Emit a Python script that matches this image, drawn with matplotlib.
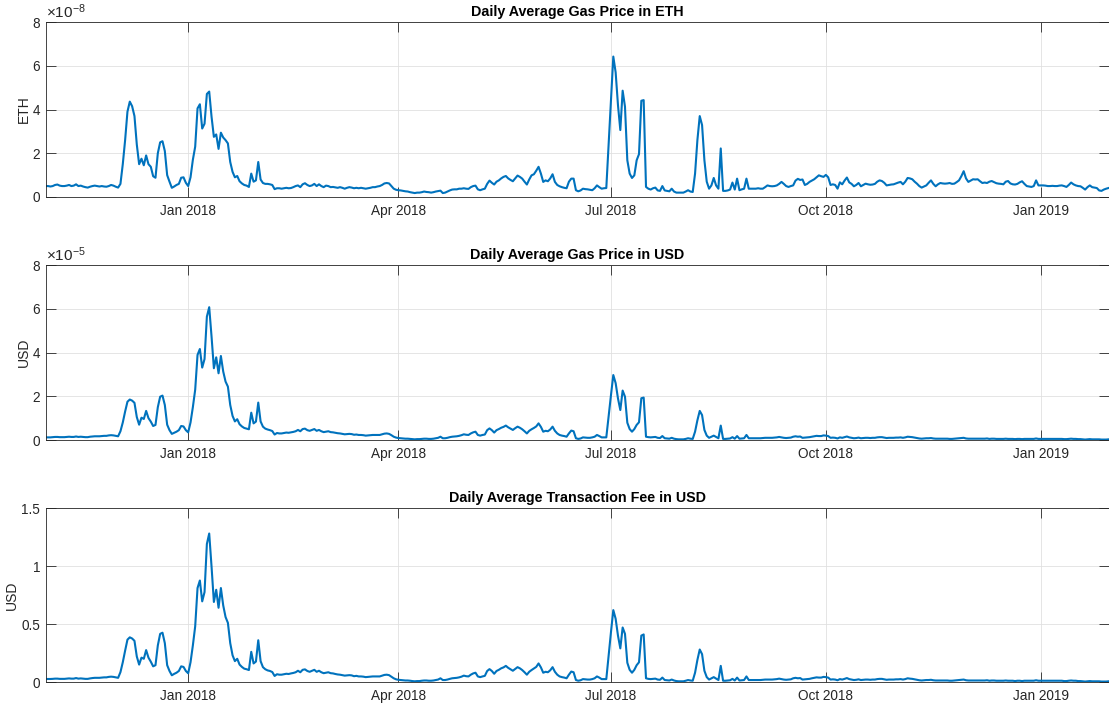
import numpy as np
import pandas as pd
import matplotlib
matplotlib.use("Agg")
import matplotlib.pyplot as plt
import matplotlib.dates as mdates

# ---------------- data (daily, starting 2017-11-01) ----------------
START = "2017-11-01"

# Daily average gas price in ETH, units of 1e-8 ETH
eth_gas_e8 = (
    # Nov 2017
    [0.5,0.5,0.48,0.5,0.55,0.57,0.52,0.5,0.5,0.52, 0.55,0.5,0.52,0.58,0.5,0.52,0.48,0.45,0.43,0.47,
     0.5,0.52,0.5,0.48,0.5,0.48,0.47,0.5,0.55,0.52]
    # Dec 2017
    + [0.47,0.43,0.6,1.5,2.6,3.9,4.36,4.15,3.7,2.4, 1.5,1.75,1.45,1.9,1.5,1.38,0.95,0.88,2.0,2.5,
       2.55,2.1,1.0,0.7,0.42,0.48,0.55,0.6,0.88,0.9, 0.65]
    # Jan 2018
    + [0.5,0.9,1.7,2.3,4.05,4.24,3.13,3.35,4.71, 4.82,3.67,2.75,2.86,2.2,2.94,2.72,2.6,2.45,1.6,
       1.15,0.9,0.96,0.72,0.62,0.55,0.52,0.46,1.07,0.7, 0.76,1.6]
    # Feb 2018
    + [0.8,0.64,0.6,0.6,0.58,0.55,0.36,0.4, 0.4,0.38,0.4,0.42,0.4,0.41,0.45,0.5,0.53,0.45,
       0.58,0.63,0.55,0.5,0.53,0.6,0.5,0.58,0.5,0.45]
    # Mar 2018
    + [0.52,0.5,0.45,0.46,0.44,0.42,0.45,0.42,0.38,0.42, 0.45,0.43,0.4,0.42,0.4,0.42,0.4,0.38,0.4,0.42,
       0.45,0.45,0.48,0.5,0.55,0.62,0.64,0.62,0.5,0.38, 0.33]
    # Apr 2018
    + [0.31,0.3,0.28,0.26,0.25,0.22,0.2,0.18,0.2, 0.2,0.22,0.25,0.23,0.22,0.2,0.22,0.25,0.27,0.29,
       0.18,0.2,0.25,0.3,0.34,0.35,0.35,0.38,0.38,0.4, 0.38]
    # May 2018
    + [0.37,0.45,0.5,0.52,0.35,0.31,0.35,0.38,0.6, 0.75,0.65,0.57,0.7,0.76,0.85,0.92,0.96,0.85,0.78,
       0.72,0.85,0.98,0.92,0.84,0.7,0.57,0.8,0.99,1.04, 1.2,1.38]
    # Jun 2018
    + [1.07,0.69,0.76,0.72,0.85,1.04,0.69,0.55, 0.49,0.45,0.42,0.4,0.7,0.84,0.84,0.31,0.26,0.3,
       0.38,0.36,0.35,0.33,0.31,0.4,0.53,0.45,0.38,0.4, 0.41,2.4]
    # Jul 2018
    + [4.4,6.42,5.7,4.2,3.06,4.86,4.13,1.68, 1.07,0.87,0.99,1.68,1.96,4.4,4.43,0.46,0.38,0.34,
       0.4,0.43,0.3,0.28,0.5,0.3,0.28,0.26,0.38,0.25, 0.2,0.2,0.2]
    # Aug 2018
    + [0.2,0.25,0.31,0.25,0.23,1.07,2.6, 3.7,3.29,1.68,0.7,0.38,0.53,0.87,0.53,0.38,2.22,
       0.28,0.28,0.3,0.34,0.66,0.34,0.84,0.31,0.35,0.38, 0.84,0.38,0.38,0.38]
    # Sep 2018
    + [0.38,0.4,0.38,0.38,0.45,0.53, 0.5,0.49,0.5,0.53,0.6,0.69,0.6,0.5,0.46,0.5,
       0.53,0.75,0.83,0.78,0.8,0.55,0.6,0.69,0.75,0.81, 0.9,0.99,0.95,0.92]
    # Oct 2018
    + [1.01,0.9,0.55,0.58,0.55,0.38, 0.67,0.58,0.75,0.89,0.67,0.6,0.49,0.55,0.64,0.49,
       0.55,0.61,0.58,0.56,0.57,0.6,0.7,0.76,0.73,0.65, 0.53,0.55,0.57,0.58,0.62]
    # Nov 2018
    + [0.66,0.69,0.58,0.7,0.87, 0.85,0.81,0.7,0.61,0.5,0.43,0.48,0.53,0.65,0.76,
       0.6,0.49,0.58,0.64,0.62,0.61,0.62,0.64,0.6,0.61, 0.68,0.76,0.95,1.18,0.85]
    # Dec 2018
    + [0.69,0.75,0.81,0.8,0.81, 0.72,0.64,0.66,0.64,0.7,0.73,0.68,0.63,0.61,0.6,
       0.58,0.7,0.73,0.62,0.58,0.57,0.6,0.67,0.72,0.6, 0.5,0.48,0.46,0.5,0.76,0.53]
    # Jan 2019
    + [0.53,0.53,0.52,0.5, 0.5,0.51,0.5,0.5,0.52,0.53,0.5,0.46,0.55,0.66,
       0.58,0.53,0.5,0.49,0.42,0.34,0.45,0.53,0.45,0.43, 0.41,0.3,0.28,0.34,0.38,0.41]
)

# Daily average gas price in USD, units of 1e-5 USD
usd_gas_e5 = (
    [0.12,0.12,0.12,0.13,0.14,0.14,0.13,0.13,0.13,0.14, 0.15,0.14,0.14,0.16,0.14,0.15,0.14,0.13,0.13,0.15,
     0.16,0.17,0.17,0.17,0.18,0.19,0.19,0.21,0.22,0.21]
    + [0.19,0.17,0.4,0.8,1.3,1.75,1.85,1.8,1.7,1.05, 0.7,1.02,0.96,1.33,1.0,0.84,0.64,0.69,1.5,1.98,
       2.03,1.6,0.7,0.45,0.28,0.33,0.38,0.45,0.64,0.62, 0.45]
    + [0.35,0.8,1.5,2.3,3.89,4.16,3.31,3.7,5.64, 6.07,4.73,3.28,3.78,3.05,3.84,3.13,2.67,2.44,1.6,
       1.1,0.85,0.95,0.72,0.62,0.55,0.52,0.49,1.25,0.76, 0.84,1.71]
    + [0.85,0.61,0.52,0.48,0.45,0.41,0.25,0.32, 0.3,0.3,0.32,0.34,0.33,0.35,0.37,0.4,0.46,0.4,
       0.5,0.52,0.45,0.42,0.46,0.5,0.42,0.46,0.4,0.36]
    + [0.38,0.4,0.36,0.35,0.33,0.31,0.3,0.28,0.26,0.27, 0.28,0.27,0.24,0.25,0.23,0.23,0.22,0.2,0.21,0.22,
       0.23,0.23,0.23,0.23,0.26,0.29,0.3,0.28,0.22,0.15, 0.11]
    + [0.09,0.08,0.07,0.06,0.06,0.05,0.04,0.03,0.04, 0.04,0.05,0.06,0.06,0.05,0.05,0.06,0.08,0.1,0.15,
       0.08,0.08,0.1,0.13,0.15,0.16,0.17,0.19,0.22,0.26, 0.24]
    + [0.23,0.3,0.35,0.38,0.23,0.2,0.23,0.25,0.45, 0.53,0.45,0.34,0.45,0.5,0.56,0.6,0.66,0.58,0.52,
       0.46,0.54,0.61,0.56,0.49,0.4,0.3,0.42,0.49,0.55, 0.62,0.76]
    + [0.6,0.38,0.42,0.4,0.48,0.61,0.42,0.3, 0.23,0.2,0.18,0.15,0.3,0.43,0.4,0.08,0.05,0.07,
       0.12,0.11,0.1,0.1,0.12,0.15,0.23,0.18,0.12,0.12, 0.12,1.1]
    + [2.05,2.97,2.6,1.9,1.37,2.26,1.98,0.79, 0.5,0.38,0.5,0.69,0.81,1.91,1.94,0.15,0.13,0.12,
       0.13,0.14,0.1,0.09,0.18,0.08,0.07,0.06,0.1,0.06, 0.04,0.03,0.03]
    + [0.03,0.05,0.08,0.06,0.05,0.38,0.9, 1.33,1.14,0.46,0.2,0.1,0.15,0.2,0.14,0.08,0.66,
       0.05,0.05,0.06,0.07,0.13,0.06,0.18,0.06,0.07,0.08, 0.23,0.08,0.08,0.08]
    + [0.08,0.08,0.08,0.09,0.1,0.1, 0.1,0.1,0.11,0.12,0.14,0.12,0.1,0.09,0.1,0.11,
       0.15,0.17,0.15,0.16,0.1,0.11,0.12,0.13,0.15,0.17, 0.19,0.18,0.18,0.21]
    + [0.2,0.18,0.1,0.11,0.1,0.07, 0.12,0.1,0.13,0.16,0.12,0.1,0.08,0.09,0.11,0.08,
       0.09,0.1,0.1,0.09,0.1,0.1,0.12,0.13,0.13,0.11, 0.09,0.1,0.1,0.1,0.11]
    + [0.11,0.12,0.1,0.12,0.15, 0.14,0.13,0.11,0.09,0.07,0.06,0.07,0.08,0.08,0.09,
       0.07,0.06,0.06,0.06,0.06,0.06,0.06,0.05,0.05,0.06, 0.07,0.08,0.09,0.1,0.07]
    + [0.06,0.06,0.06,0.06,0.06, 0.06,0.06,0.06,0.07,0.05,0.06,0.06,0.05,0.05,0.05,
       0.05,0.06,0.05,0.05,0.05,0.04,0.05,0.05,0.04,0.05, 0.05,0.05,0.05,0.05,0.07,0.05]
    + [0.05,0.05,0.05,0.05, 0.05,0.05,0.05,0.05,0.05,0.05,0.04,0.04,0.05,0.06,
       0.05,0.05,0.04,0.04,0.03,0.02,0.03,0.04,0.03,0.03, 0.03,0.03,0.02,0.02,0.02,0.03]
)

# Daily average transaction fee in USD
usd_fee = (
    [0.026,0.026,0.026,0.027,0.029,0.029,0.027,0.027,0.027,0.029, 0.031,0.029,0.029,0.034,0.029,0.031,0.029,0.027,0.027,0.031,
     0.034,0.036,0.036,0.036,0.038,0.04,0.04,0.044,0.046,0.044]
    + [0.04,0.036,0.085,0.17,0.27,0.365,0.385,0.375,0.355,0.22, 0.15,0.21,0.2,0.275,0.21,0.175,0.135,0.145,0.315,0.415,
       0.425,0.335,0.145,0.095,0.058,0.07,0.08,0.095,0.135,0.13, 0.095]
    + [0.075,0.17,0.315,0.48,0.81,0.875,0.695,0.775,1.19, 1.28,0.995,0.69,0.795,0.64,0.81,0.66,0.56,0.51,0.335,
       0.23,0.18,0.2,0.15,0.13,0.115,0.11,0.103,0.26,0.16, 0.176,0.36]
    + [0.18,0.128,0.11,0.1,0.095,0.086,0.052,0.067, 0.063,0.063,0.067,0.071,0.069,0.074,0.078,0.084,0.097,0.084,
       0.105,0.109,0.095,0.088,0.097,0.105,0.088,0.097,0.084,0.076]
    + [0.08,0.084,0.076,0.074,0.069,0.065,0.063,0.059,0.055,0.057, 0.059,0.057,0.05,0.053,0.048,0.048,0.046,0.042,0.044,0.046,
       0.048,0.048,0.048,0.048,0.055,0.061,0.063,0.059,0.046,0.032, 0.023]
    + [0.019,0.017,0.015,0.013,0.013,0.011,0.008,0.006,0.008, 0.008,0.011,0.013,0.013,0.011,0.011,0.013,0.017,0.021,0.032,
       0.017,0.017,0.021,0.027,0.032,0.034,0.036,0.04,0.046,0.055, 0.05]
    + [0.048,0.063,0.074,0.08,0.048,0.042,0.048,0.053,0.095, 0.111,0.095,0.071,0.095,0.105,0.118,0.126,0.139,0.122,0.109,
       0.097,0.113,0.128,0.118,0.103,0.084,0.063,0.088,0.103,0.116, 0.13,0.16]
    + [0.126,0.08,0.088,0.084,0.101,0.128,0.088,0.063, 0.048,0.042,0.038,0.032,0.063,0.09,0.084,0.017,0.011,0.015,
       0.025,0.023,0.021,0.021,0.025,0.032,0.048,0.038,0.025,0.025, 0.025,0.23]
    + [0.43,0.62,0.545,0.4,0.29,0.47,0.415,0.166, 0.105,0.08,0.105,0.145,0.17,0.4,0.41,0.032,0.027,0.025,
       0.027,0.029,0.021,0.019,0.038,0.017,0.015,0.013,0.021,0.013, 0.008,0.006,0.006]
    + [0.006,0.011,0.017,0.013,0.011,0.08,0.19, 0.28,0.24,0.097,0.042,0.021,0.032,0.042,0.029,0.017,0.139,
       0.011,0.011,0.013,0.015,0.027,0.013,0.038,0.013,0.015,0.017, 0.048,0.017,0.017,0.017]
    + [0.017,0.017,0.017,0.019,0.021,0.021, 0.021,0.021,0.023,0.025,0.029,0.025,0.021,0.019,0.021,0.023,
       0.032,0.036,0.032,0.034,0.021,0.023,0.025,0.027,0.032,0.036, 0.04,0.038,0.038,0.044]
    + [0.042,0.038,0.021,0.023,0.021,0.015, 0.025,0.021,0.027,0.034,0.025,0.021,0.017,0.019,0.023,0.017,
       0.019,0.021,0.021,0.019,0.021,0.021,0.025,0.027,0.027,0.023, 0.019,0.021,0.021,0.021,0.023]
    + [0.023,0.025,0.021,0.025,0.032, 0.029,0.027,0.023,0.019,0.015,0.013,0.015,0.017,0.017,0.019,
       0.015,0.013,0.013,0.013,0.013,0.013,0.013,0.011,0.011,0.013, 0.015,0.017,0.019,0.021,0.015]
    + [0.013,0.013,0.013,0.013,0.013, 0.013,0.013,0.013,0.015,0.011,0.013,0.013,0.011,0.011,0.011,
       0.011,0.013,0.011,0.011,0.011,0.008,0.011,0.011,0.008,0.011, 0.011,0.011,0.011,0.011,0.015,0.011]
    + [0.011,0.011,0.011,0.011, 0.011,0.011,0.011,0.011,0.011,0.011,0.008,0.008,0.011,0.013,
       0.011,0.011,0.008,0.008,0.006,0.004,0.006,0.008,0.006,0.006, 0.006,0.006,0.004,0.004,0.004,0.006]
)

titles = ["Daily Average Gas Price in ETH",
          "Daily Average Gas Price in USD",
          "Daily Average Transaction Fee in USD"]
ylabels = ["ETH", "USD", "USD"]
exponents = [r"$\times10^{-8}$", r"$\times10^{-5}$", None]
ylims = [(0, 8), (0, 8), (0, 1.5)]
yticks = [[0, 2, 4, 6, 8], [0, 2, 4, 6, 8], [0, 0.5, 1, 1.5]]
yticklabels = [["0", "2", "4", "6", "8"], ["0", "2", "4", "6", "8"], ["0", "0.5", "1", "1.5"]]
xtick_dates = ["2018-01-01", "2018-04-01", "2018-07-01", "2018-10-01", "2019-01-01"]
x_end = "2019-01-30"

series = [eth_gas_e8, usd_gas_e5, usd_fee]

# ---------------- style ----------------
plt.rcParams['font.family'] = ['Liberation Sans', 'DejaVu Sans']
plt.rcParams['mathtext.fontset'] = 'custom'
plt.rcParams['mathtext.rm'] = 'Liberation Sans'
plt.rcParams['mathtext.it'] = 'Liberation Sans'
plt.rcParams['mathtext.bf'] = 'Liberation Sans:bold'
TXT = "#262626"
LINE = "#0072BD"

fig = plt.figure(figsize=(11.09, 7.09), dpi=100)
W = 1109.0
H = 709.0
boxes = [(45.7, 22, 1108.5, 197), (45.7, 265, 1108.5, 440), (45.7, 508, 1108.5, 682)]

for i, vals in enumerate(series):
    l, t, r, b = boxes[i]
    ax = fig.add_axes([l / W, 1 - b / H, (r - l) / W, (b - t) / H])
    dates = pd.date_range(START, periods=len(vals), freq="D")
    ax.plot(dates, vals, color=LINE, lw=1.5, solid_joinstyle="round")
    ax.set_xlim(pd.Timestamp(START), pd.Timestamp(x_end))
    ax.set_ylim(*ylims[i])
    ax.set_yticks(yticks[i])
    ax.set_yticklabels(yticklabels[i])
    ax.set_xticks([pd.Timestamp(d) for d in xtick_dates])
    ax.xaxis.set_major_formatter(mdates.DateFormatter("%b %Y"))
    ax.grid(True, color="#e0e0e0", lw=0.6)
    ax.set_axisbelow(True)
    for s in ax.spines.values():
        s.set_color(TXT)
        s.set_linewidth(0.6)
    ax.tick_params(direction="in", length=7.5, width=0.6, color=TXT,
                   labelcolor=TXT, labelsize=9.8, top=True, right=True)
    ax.tick_params(axis="x", pad=5)
    ax.tick_params(axis="y", pad=4)
    ax.set_title(titles[i], fontsize=10.3, fontweight="bold", color="black", pad=4)
    ax.set_ylabel(ylabels[i], fontsize=10, color=TXT, labelpad=1.5)
    if exponents[i]:
        ax.annotate(exponents[i], xy=(0, 1), xycoords="axes fraction",
                    xytext=(0, 1.0), textcoords="offset points",
                    ha="left", va="bottom", fontsize=11, color=TXT)

fig.savefig("out.png", dpi=100)
